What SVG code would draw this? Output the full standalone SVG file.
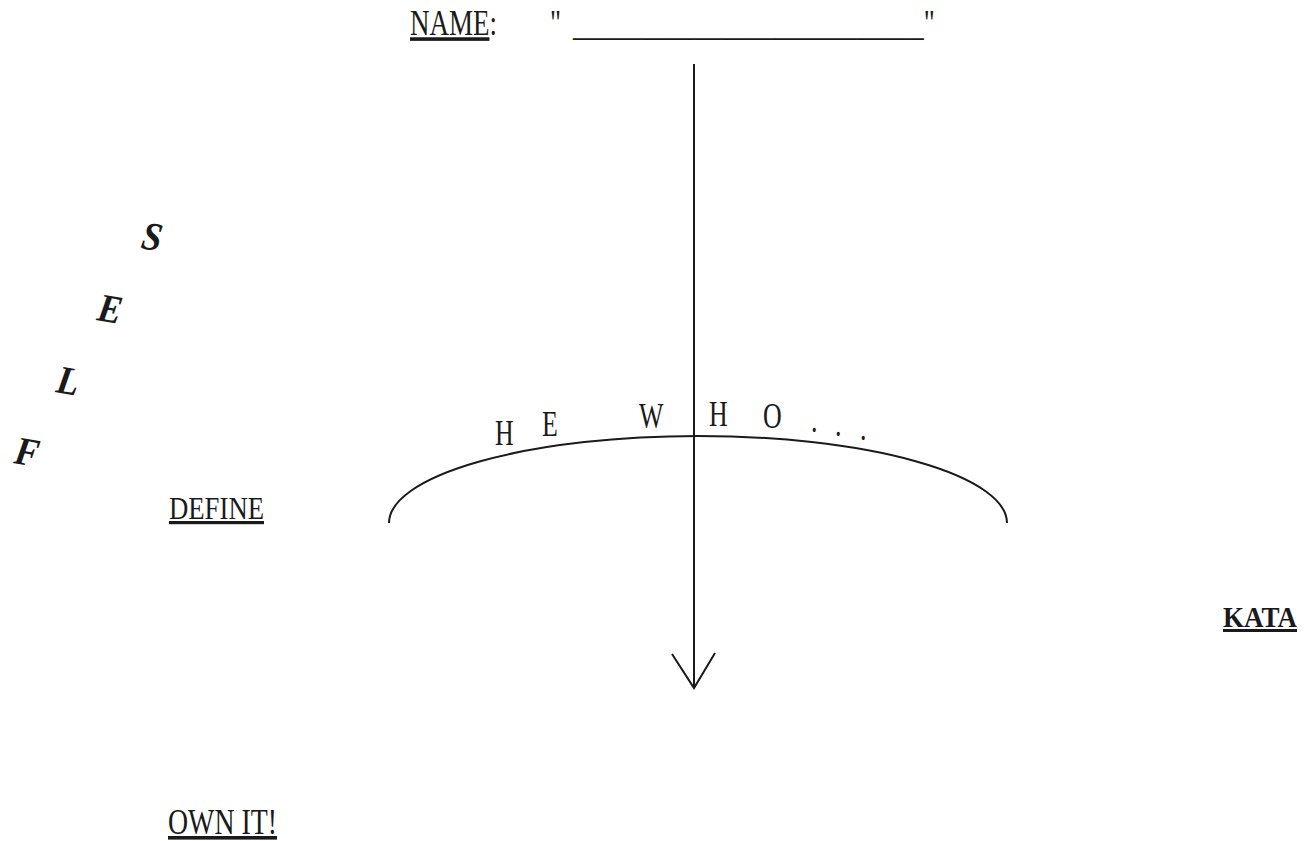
<svg xmlns="http://www.w3.org/2000/svg" width="1312" height="841" viewBox="0 0 1312 841">
<style>
  text { font-family: "Liberation Serif", "Times New Roman", serif; fill: #1a1a1a; }
  .reg { font-size: 36px; }
  .u { text-decoration: underline; }
  .bi { font-size: 40px; font-weight: bold; font-style: italic; }
  .arcletter { font-size: 35px; }
  .stroke { fill: none; stroke: #1a1a1a; stroke-width: 2; }
</style>
<rect width="1312" height="841" fill="#ffffff"/>

<g id="name">
  <text class="reg" transform="translate(410,35) scale(0.75,1)"><tspan class="u">NAME</tspan>:</text>
  <text class="reg" transform="translate(550,35) scale(0.75,1)">"<tspan dx="16">__________________________</tspan>"</text>
</g>

<g id="self">
  <text class="bi" transform="translate(140,248) rotate(10) scale(0.9,1)">S</text>
  <text class="bi" transform="translate(96,320) rotate(10) scale(0.9,1)">E</text>
  <text class="bi" transform="translate(55,392) rotate(10) scale(0.9,1)">L</text>
  <text class="bi" transform="translate(13,463) rotate(10) scale(0.9,1)">F</text>
</g>

<g id="define">
  <text class="reg u" x="169" y="519" textLength="95" lengthAdjust="spacingAndGlyphs" style="font-size:32px">DEFINE</text>
</g>

<g id="kata">
  <text class="u" x="1223" y="627" textLength="74" lengthAdjust="spacingAndGlyphs" style="font-size:30px;font-weight:bold">KATA</text>
</g>

<g id="own-it">
  <text class="reg u" x="168" y="834" textLength="109" lengthAdjust="spacingAndGlyphs">OWN IT!</text>
</g>

<g id="arc">
  <path class="stroke" d="M 389 523 A 309 87 0 0 1 1007 523"/>
</g>

<g id="he-who">
  <text class="arcletter" transform="translate(495,445) scale(0.74,1)">H</text>
  <text class="arcletter" transform="translate(542,436) scale(0.74,1)">E</text>
  <text class="arcletter" transform="translate(639,428) scale(0.74,1)">W</text>
  <text class="arcletter" transform="translate(709,426) scale(0.74,1)">H</text>
  <text class="arcletter" transform="translate(763,428) scale(0.74,1)">O</text>
  <text class="arcletter" transform="translate(811,432) scale(0.74,1)">.</text>
  <text class="arcletter" transform="translate(835,436) scale(0.74,1)">.</text>
  <text class="arcletter" transform="translate(860,440) scale(0.74,1)">.</text>
</g>

<g id="connectors">
  <path class="stroke" d="M 694 64 L 694 688"/>
  <path class="stroke" d="M 672 654 L 694 688 L 715 653"/>
</g>
</svg>
